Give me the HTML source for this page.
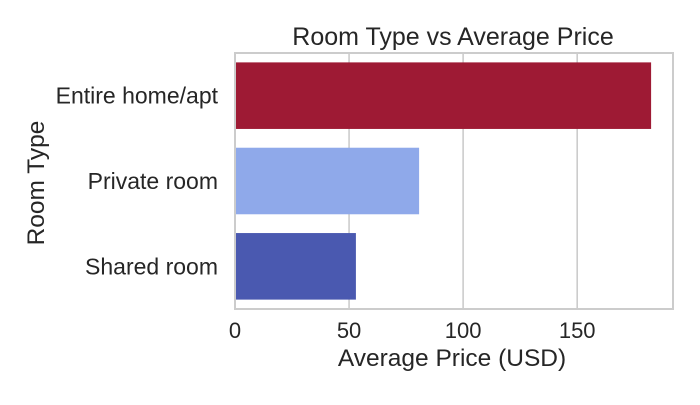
<!DOCTYPE html>
<html><head><meta charset="utf-8"><style>
body{margin:0;background:#fff;}
text{font-family:"Liberation Sans","DejaVu Sans",sans-serif;fill:#262626;}
</style></head><body>
<svg id="chart" width="700" height="400"></svg>
<script>
const categories=["Entire home/apt","Private room","Shared room"];
const prices=[182.4,80.7,53.0];
const colors=["#9e1a34","#8fa9ea","#4a59b0"];
const ticks=[0,50,100,150];
const L=235,R=673,T=53,B=309,xmax=192;
const sx=v=>L+v/xmax*(R-L);
const band=(B-T)/categories.length;
const sy=i=>T+band*(i+0.5);
const svg=document.getElementById('chart');
const NS="http://www.w3.org/2000/svg";
function mk(tag,attrs,txt){const e=document.createElementNS(NS,tag);for(const k in attrs)e.setAttribute(k,attrs[k]);if(txt!==undefined)e.textContent=txt;svg.appendChild(e);return e;}
ticks.forEach(t=>{
 const g=mk('line',{x1:sx(t),x2:sx(t),y1:T,y2:B,stroke:'#cccccc','stroke-width':1.6});
 
 
 const l=mk('text',{x:sx(t),y:B+29,'text-anchor':'middle','font-size':22},t);
 
 
});
categories.forEach((c,i)=>{
 const h=band*0.78;
 const r=mk('rect',{x:sx(0),y:sy(i)-h/2,width:sx(prices[i])-sx(0),height:h,fill:colors[i]});
 
 
 const l=mk('text',{x:L-17,y:sy(i)+8,'text-anchor':'end','font-size':23},c);
 
 
});
const f=mk('rect',{x:L,y:T,width:R-L,height:B-T,fill:'none',stroke:'#cccccc','stroke-width':2});


const ti=mk('text',{x:(L+R)/2-1,y:T-8,'text-anchor':'middle','font-size':25},'Room Type vs Average Price');


const xt=mk('text',{x:(L+R)/2-2,y:366,'text-anchor':'middle','font-size':24.5},'Average Price (USD)');


const yc=(T+B)/2+2;
const yt=mk('text',{x:44,y:yc,'text-anchor':'middle','font-size':24.5,transform:'rotate(-90 44 '+yc+')'},'Room Type');


</script>
</body></html>
